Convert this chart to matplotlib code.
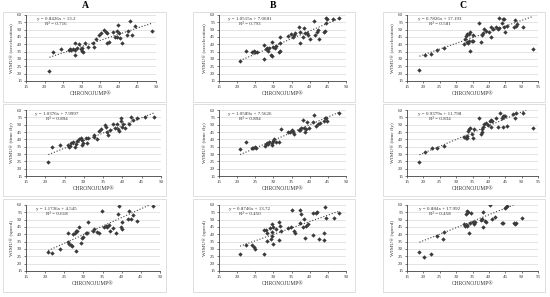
import numpy as np
import matplotlib
matplotlib.use('Agg')
import matplotlib.pyplot as plt
from matplotlib.patches import Rectangle

plt.rcParams['font.family'] = ['Liberation Serif', 'DejaVu Serif']

# ---------------- data ----------------
col_titles = ['A', 'B', 'C']
row_ylabels = ['WIMU® (acceleration)', 'WIMU® (time fly)', 'WIMU® (speed)']
x_label = 'CHRONOJUMP®'

# column A
a_acc_x = [21.3, 22.4, 24.4, 26.5, 26.8, 27.2, 27.7, 28.1, 28.3, 28.3, 28.8, 29.4, 29.9, 30.0, 30.3, 30.2,
           30.9, 31.8, 33.1, 33.3, 33.9, 34.7, 35.2, 36.0, 36.5, 36.9, 36.7, 37.3, 38.3, 38.9, 39.4, 39.6,
           39.9, 40.1, 40.3, 40.8, 42.1, 42.4, 43.0, 43.5, 44.4, 48.8]
a_acc_y = [22.0, 34.5, 36.6, 35.8, 36.9, 36.3, 36.9, 35.8, 41.1, 32.5, 37.3, 40.0, 36.5, 35.5, 35.1, 37.5,
           41.1, 38.4, 40.7, 38.4, 43.4, 46.6, 47.5, 49.8, 48.6, 47.5, 41.1, 41.6, 48.2, 45.2, 49.3, 45.2,
           53.0, 47.5, 44.1, 40.7, 46.6, 49.3, 56.0, 46.6, 52.7, 49.3]
a_fly_x = [20.8, 21.7, 23.8, 26.0, 26.1, 26.4, 26.7, 27.1, 27.7, 28.0, 28.3, 28.7, 29.2, 29.5, 29.5, 29.9,
           30.6, 30.9, 31.2, 32.5, 32.6, 33.3, 34.0, 34.4, 35.5, 35.7, 35.9, 36.3, 36.8, 37.6, 38.1, 38.7,
           38.9, 39.2, 39.5, 39.6, 39.8, 40.2, 40.7, 41.8, 42.2, 42.8, 43.9, 45.9, 48.2]
a_fly_y = [24.8, 34.5, 36.1, 36.1, 34.5, 35.5, 37.3, 38.4, 34.5, 36.6, 39.1, 40.0, 40.7, 39.5, 36.1, 37.3,
           41.1, 37.3, 40.7, 41.8, 43.0, 40.2, 45.7, 47.0, 49.8, 48.4, 45.2, 43.0, 46.4, 50.2, 48.0, 50.2,
           47.0, 45.7, 52.5, 54.3, 48.6, 50.2, 48.0, 50.2, 55.2, 53.2, 54.8, 55.0, 55.5]
a_spd_x = [20.8, 21.9, 23.9, 26.1, 26.3, 26.7, 27.1, 26.1, 27.4, 27.7, 28.0, 28.4, 28.1, 28.8, 29.4, 29.7,
           30.0, 30.7, 31.0, 31.1, 32.6, 32.8, 33.6, 34.1, 34.8, 35.5, 35.9, 36.2, 36.6, 36.9, 37.6, 38.5,
           39.1, 39.4, 39.8, 40.0, 40.2, 41.7, 41.9, 42.4, 43.0, 44.1, 48.2]
a_spd_y = [27.7, 27.0, 29.8, 34.5, 33.4, 32.7, 32.3, 40.7, 40.0, 41.1, 42.0, 42.5, 28.9, 45.2, 34.3, 37.7,
           38.4, 41.1, 41.1, 48.6, 42.5, 43.4, 41.8, 40.7, 56.1, 45.2, 45.7, 45.2, 46.6, 42.5, 44.1, 41.1,
           53.6, 59.5, 44.8, 43.6, 48.4, 50.2, 56.1, 50.2, 53.0, 49.1, 59.5]

# column B
b_acc_x = [20.8, 22.4, 24.2, 24.6, 25.0, 25.4, 27.5, 27.5, 28.0, 28.3, 28.6, 28.9, 29.3, 29.6, 29.5, 30.0,
           30.5, 30.7, 31.4, 31.7, 31.9, 31.7, 34.0, 34.8, 35.3, 35.6, 36.0, 37.0, 37.2, 37.4, 38.1, 38.5,
           38.8, 39.3, 39.5, 40.0, 41.1, 41.5, 42.0, 42.2, 42.5, 43.9, 44.1, 44.4, 44.5, 44.8, 46.5, 48.0]
b_acc_y = [28.9, 35.7, 35.0, 35.7, 34.5, 35.0, 39.5, 30.0, 36.6, 37.7, 35.7, 37.3, 32.7, 32.3, 41.8, 38.4,
           37.7, 39.1, 34.5, 35.7, 44.8, 40.7, 45.7, 47.0, 44.8, 46.4, 47.7, 52.0, 48.6, 40.7, 45.2, 50.9,
           47.5, 47.7, 46.6, 43.4, 55.7, 46.4, 48.4, 49.8, 43.4, 48.2, 49.1, 54.8, 57.7, 57.3, 57.3, 57.7]
b_fly_x = [20.8, 22.4, 24.2, 24.4, 24.8, 25.1, 27.6, 27.9, 28.3, 28.5, 28.8, 29.5, 29.7, 29.9, 30.2, 30.7,
           31.6, 32.0, 34.1, 34.5, 35.2, 35.5, 35.7, 37.0, 37.4, 37.7, 38.1, 38.5, 38.8, 39.0, 39.2, 39.7,
           40.9, 41.3, 41.8, 42.2, 42.9, 43.8, 44.2, 44.6, 44.8, 48.0]
b_fly_y = [33.2, 38.4, 34.3, 34.3, 34.8, 33.9, 35.7, 36.6, 37.7, 36.6, 38.4, 37.7, 36.1, 38.9, 40.0, 38.4,
           38.0, 46.8, 44.8, 45.2, 46.6, 45.2, 43.9, 46.6, 46.1, 47.5, 53.2, 47.5, 45.2, 47.0, 51.6, 47.5,
           51.6, 56.6, 48.9, 50.2, 51.1, 52.5, 54.3, 54.8, 52.5, 57.7]
b_spd_x = [20.8, 22.4, 24.2, 24.6, 25.0, 27.5, 28.0, 27.5, 28.3, 28.3, 29.0, 29.2, 29.6, 29.7, 29.7, 29.9,
           29.9, 30.7, 31.4, 31.6, 31.8, 32.0, 34.0, 34.9, 35.1, 35.6, 35.9, 37.2, 37.4, 37.5, 38.1, 38.5,
           38.8, 39.0, 39.4, 40.8, 41.0, 41.8, 42.0, 42.5, 43.8, 44.0, 44.3, 44.5, 46.6, 48.0]
b_spd_y = [26.6, 32.7, 32.7, 31.1, 30.2, 43.0, 43.0, 26.6, 40.7, 35.5, 44.1, 36.6, 41.4, 39.1, 46.8, 44.8,
           33.4, 43.4, 48.6, 36.1, 45.7, 42.3, 44.1, 45.2, 56.6, 42.5, 41.1, 47.5, 56.6, 53.6, 45.2, 50.2,
           37.5, 45.7, 47.0, 39.3, 54.3, 54.8, 55.5, 36.6, 40.7, 36.1, 58.4, 50.9, 50.9, 54.8]

# column C
c_acc_x = [18.8, 20.6, 22.4, 24.3, 26.4, 32.5, 32.8, 33.0, 33.2, 33.4, 33.7, 33.9, 34.2, 34.0, 34.2, 34.8,
           35.2, 35.2, 37.1, 37.6, 37.8, 38.1, 38.6, 39.1, 40.0, 40.6, 40.8, 41.3, 42.3, 42.8, 43.1, 43.1,
           43.9, 44.2, 44.6, 44.6, 44.9, 45.4, 47.6, 47.9, 48.4, 48.6, 50.4, 53.5]
c_acc_y = [22.5, 32.5, 33.4, 36.1, 37.7, 40.2, 43.6, 45.7, 46.8, 41.6, 41.1, 42.3, 48.2, 47.0, 35.7, 42.5,
           42.0, 46.4, 54.3, 41.4, 46.4, 48.0, 50.5, 49.3, 48.6, 52.0, 45.2, 50.2, 52.0, 50.2, 50.9, 58.2,
           54.3, 57.0, 57.0, 52.0, 48.2, 52.7, 52.0, 56.6, 52.7, 53.9, 51.6, 36.6]
c_fly_x = [18.8, 20.6, 22.6, 24.3, 26.4, 32.5, 33.0, 33.2, 33.4, 33.7, 34.0, 34.2, 34.7, 35.2, 35.6, 37.1,
           37.5, 37.8, 38.0, 38.3, 38.6, 39.1, 39.6, 40.3, 40.6, 41.0, 40.8, 42.1, 42.8, 43.4, 43.9, 44.2,
           44.6, 45.0, 44.4, 45.4, 47.4, 47.9, 48.4, 50.4, 53.5]
c_fly_y = [24.8, 31.6, 33.9, 34.3, 35.7, 41.8, 41.1, 42.3, 41.1, 45.7, 47.0, 48.0, 43.4, 40.7, 47.0, 54.3,
           43.4, 45.2, 47.0, 48.2, 50.2, 50.9, 49.8, 52.5, 53.2, 52.5, 48.2, 54.3, 48.6, 57.7, 54.8, 56.1,
           56.1, 56.1, 48.2, 49.3, 57.0, 54.3, 57.7, 57.7, 48.0]
c_spd_x = [18.8, 20.3, 22.3, 24.1, 26.1, 26.3, 32.5, 32.8, 33.2, 33.4, 33.0, 33.4, 33.7, 34.0, 34.2, 34.4,
           35.2, 35.5, 35.8, 37.5, 37.8, 38.1, 38.3, 38.8, 39.1, 40.3, 41.1, 41.8, 43.9, 44.4, 44.9, 45.2,
           45.4, 47.6, 47.9, 48.4, 50.2]
c_spd_y = [27.7, 24.8, 26.6, 38.9, 36.8, 41.4, 47.0, 45.7, 45.7, 46.4, 53.9, 56.1, 55.0, 41.1, 48.0, 54.3,
           48.2, 47.0, 48.6, 49.8, 50.2, 45.2, 55.5, 49.1, 48.2, 59.8, 50.2, 51.6, 47.5, 47.5, 57.7, 58.9,
           59.3, 48.0, 47.0, 47.5, 50.9]

# trend line coefficients (slope, intercept, r2) as printed on the chart
a_fits = [(0.8426, 13.2, '0.716'), (1.0376, 7.9997, '0.894'), (1.1736, 4.545, '0.618')]
b_fits = [(1.0515, 7.0681, '0.793'), (1.0589, 7.5626, '0.894'), (0.8746, 13.72, '0.450')]
c_fits = [(0.7826, 17.193, '0.581'), (0.9379, 11.798, '0.834'), (0.884, 17.992, '0.458')]

# ---------------- layout ----------------
W, H = 550, 297
fig = plt.figure(figsize=(5.5, 2.97), dpi=100)


def fig_rect(left, top, right, bottom):
	return [left / W, 1 - bottom / H, (right - left) / W, (bottom - top) / H]


data = [
	[(a_acc_x, a_acc_y), (a_fly_x, a_fly_y), (a_spd_x, a_spd_y)],
	[(b_acc_x, b_acc_y), (b_fly_x, b_fly_y), (b_spd_x, b_spd_y)],
	[(c_acc_x, c_acc_y), (c_fly_x, c_fly_y), (c_spd_x, c_spd_y)],
]
fits = [a_fits, b_fits, c_fits]

# plot-area pixel extents: left, right per column/row, top/bottom per row
col_left = [26, 219, 407]
col_right = [[156, 161, 160], [346, 346, 346], [538, 538, 538]]
row_top = [15, 110, 205]
row_bot = [81, 176, 271]
col_xmax = [50, 50, 55]
eq_xfrac = [0.23, 0.24, 0.25]

# panel boxes
box_x = [(3, 166), (193, 355), (383, 545)]
box_y = [(12, 102), (104, 196), (199, 292)]
title_x = [85, 273, 463]

for c in range(3):
	fig.text(title_x[c] / W, 1 - 6 / H, col_titles[c], ha='center', va='center',
		fontsize=7, fontweight='bold')
	for r in range(3):
		bx0, bx1 = box_x[c]
		by0, by1 = box_y[r]
		fig.patches.append(Rectangle((bx0 / W, 1 - by1 / H), (bx1 - bx0) / W, (by1 - by0) / H,
			transform=fig.transFigure, fill=False, edgecolor='#d9d9d9', lw=0.6))

		ax = fig.add_axes(fig_rect(col_left[c], row_top[r], col_right[c][r], row_bot[r]))
		xs, ys = data[c][r]
		ax.scatter(xs, ys, s=5, marker='D', color='#3a3a3a', linewidths=0, zorder=3)

		slope, icpt, r2 = fits[c][r]
		xl = np.array([min(xs), max(xs)])
		ax.plot(xl, slope * xl + icpt, color='#404040', linestyle=':', linewidth=0.8, zorder=2)

		ax.set_xlim(15, col_xmax[c])
		ax.set_ylim(15, 60)
		ax.set_xticks(np.arange(15, col_xmax[c] + 1, 5))
		ax.set_yticks(np.arange(15, 61, 5))
		ax.yaxis.grid(True, color='#d9d9d9', linewidth=0.5)
		ax.set_axisbelow(True)
		for s in ['top', 'right']:
			ax.spines[s].set_visible(False)
		for s in ['left', 'bottom']:
			ax.spines[s].set_color('#404040')
			ax.spines[s].set_linewidth(0.6)
		ax.tick_params(axis='both', labelsize=3.6, length=1.5, width=0.5, pad=1.2, colors='#404040',
			labelcolor='#333333')
		ax.set_ylabel(row_ylabels[r], fontsize=3.8, labelpad=2.5, color='#333333')
		ax.set_xlabel(x_label, fontsize=4, labelpad=1.5, color='#333333')

		sign = '+' if icpt >= 0 else '-'
		ax.text(eq_xfrac[c], 0.905, 'y = %sx %s %s\nR² = %s' % (('%g' % slope), sign, ('%g' % icpt), r2),
			transform=ax.transAxes, ha='center', va='center', fontsize=3.6, color='#333333',
			linespacing=1.25, zorder=4)

plt.savefig('out.png', dpi=100)
